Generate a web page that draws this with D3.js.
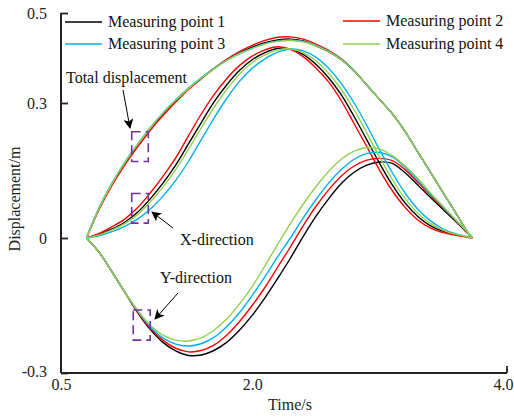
<!DOCTYPE html>
<html><head><meta charset="utf-8">
<script src="https://cdn.jsdelivr.net/npm/d3@7"></script>
<style>
html,body{margin:0;padding:0;background:#fff;}
svg text{font-family:"Liberation Serif","Times New Roman","DejaVu Serif",serif !important;}
</style></head>
<body><svg id="c" width="514" height="417" font-family="Liberation Serif, Times New Roman, serif"></svg>
<script>
// ---------- data ----------
const time = [0.70,0.80,0.90,1.00,1.10,1.20,1.30,1.40,1.50,1.60,1.70,1.80,1.90,2.00,2.10,2.20,2.30,2.40,2.50,2.60,2.70,2.80,2.90,3.00,3.10,3.20,3.30,3.40,3.50,3.60,3.70,3.73];
const seriesNames = ["Measuring point 1","Measuring point 2","Measuring point 3","Measuring point 4"];
const seriesColors = ["#000000","#ff0000","#00b0f0","#92d050"];

// Total displacement
const total1 = [0,0.066,0.120,0.165,0.205,0.242,0.275,0.304,0.331,0.354,0.376,0.395,0.411,0.424,0.434,0.440,0.442,0.438,0.427,0.414,0.396,0.371,0.340,0.308,0.276,0.237,0.191,0.146,0.100,0.055,0.009,0];
const total2 = [0,0.064,0.117,0.162,0.202,0.239,0.272,0.302,0.330,0.354,0.377,0.397,0.414,0.428,0.439,0.446,0.447,0.442,0.431,0.417,0.398,0.372,0.340,0.308,0.276,0.237,0.191,0.146,0.100,0.055,0.009,0];
const total3 = [0,0.068,0.122,0.168,0.208,0.245,0.278,0.307,0.333,0.356,0.377,0.395,0.410,0.422,0.432,0.438,0.440,0.437,0.428,0.415,0.397,0.372,0.340,0.308,0.276,0.237,0.191,0.146,0.100,0.055,0.009,0];
const total4 = [0,0.067,0.121,0.167,0.207,0.244,0.277,0.306,0.332,0.355,0.376,0.394,0.409,0.421,0.431,0.437,0.439,0.436,0.427,0.414,0.396,0.371,0.340,0.308,0.276,0.237,0.191,0.146,0.100,0.055,0.009,0];

// X-direction
const xdir1 = [0,0.008,0.020,0.035,0.057,0.087,0.122,0.162,0.209,0.256,0.302,0.340,0.372,0.396,0.412,0.421,0.420,0.408,0.386,0.356,0.318,0.270,0.218,0.166,0.118,0.078,0.048,0.027,0.015,0.008,0.002,0];
const xdir2 = [0,0.010,0.025,0.042,0.067,0.100,0.137,0.178,0.227,0.275,0.318,0.354,0.383,0.404,0.418,0.425,0.419,0.403,0.378,0.347,0.305,0.254,0.203,0.151,0.105,0.068,0.040,0.022,0.012,0.006,0.001,0];
const xdir3 = [0,0.005,0.014,0.026,0.042,0.064,0.093,0.128,0.170,0.218,0.266,0.310,0.348,0.377,0.398,0.413,0.420,0.416,0.402,0.377,0.343,0.300,0.250,0.196,0.145,0.100,0.064,0.038,0.020,0.009,0.002,0];
const xdir4 = [0,0.007,0.018,0.032,0.052,0.080,0.113,0.152,0.197,0.244,0.290,0.330,0.364,0.390,0.407,0.418,0.420,0.412,0.394,0.366,0.330,0.285,0.233,0.180,0.130,0.088,0.055,0.032,0.017,0.008,0.002,0];

// Y-direction
const ydir1 = [0,-0.032,-0.075,-0.120,-0.165,-0.203,-0.232,-0.251,-0.261,-0.260,-0.250,-0.232,-0.205,-0.172,-0.133,-0.090,-0.045,0.003,0.048,0.087,0.121,0.146,0.162,0.169,0.166,0.145,0.118,0.090,0.063,0.036,0.008,0];
const ydir2 = [0,-0.032,-0.075,-0.120,-0.164,-0.200,-0.227,-0.245,-0.253,-0.250,-0.238,-0.216,-0.186,-0.150,-0.110,-0.065,-0.020,0.027,0.070,0.107,0.138,0.160,0.173,0.177,0.172,0.152,0.124,0.095,0.066,0.038,0.009,0];
const ydir3 = [0,-0.032,-0.075,-0.120,-0.162,-0.197,-0.222,-0.236,-0.240,-0.235,-0.221,-0.197,-0.166,-0.128,-0.086,-0.042,0.000,0.044,0.085,0.122,0.152,0.175,0.188,0.190,0.180,0.157,0.128,0.098,0.068,0.039,0.010,0];
const ydir4 = [0,-0.032,-0.075,-0.120,-0.160,-0.194,-0.216,-0.227,-0.229,-0.222,-0.205,-0.180,-0.147,-0.108,-0.062,-0.014,0.032,0.075,0.114,0.148,0.175,0.193,0.201,0.198,0.183,0.160,0.132,0.100,0.070,0.040,0.010,0];

const xTickValues = [0.5, 2.0, 4.0];
const xTickLabels = ["0.5","2.0","4.0"];
const yTickValues = [0.5, 0.3, 0, -0.3];
const yTickLabels = ["0.5","0.3","0","-0.3"];

// ---------- chart ----------
const FONT = "Liberation Serif, Times New Roman, serif";
const svg = d3.select("#c");
const x = d3.scaleLinear().domain([0.5, 4.0]).range([61, 507]);
const y = d3.scaleLinear().domain([-0.3, 0.5]).range([373, 13]);

const groups = [
  [total1,total2,total3,total4],
  [xdir1,xdir2,xdir3,xdir4],
  [ydir1,ydir2,ydir3,ydir4]
];

const line = d3.line().x(d=>x(d[0])).y(d=>y(d[1])).curve(d3.curveCatmullRom.alpha(0.5));

for (let s = 0; s < 4; s++) {
  groups.forEach(g => {
    const pts = time.map((t,i)=>[t, g[s][i]]);
    svg.append("path").attr("d", line(pts)).attr("fill","none")
      .attr("stroke", seriesColors[s]).attr("stroke-width",1.4);
  });
}

// axes
const axisColor = "#222";
const gx = svg.append("g").attr("transform",`translate(0,${y(-0.3)})`)
  .call(d3.axisBottom(x).tickValues(xTickValues).tickFormat((d,i)=>xTickLabels[i]).tickSize(0).tickPadding(6));
gx.attr("font-family",FONT).attr("font-size",16);
gx.select(".domain").remove();
gx.selectAll("text").attr("fill","#222");
gx.selectAll(".tick").filter(d=>d===4.0).select("text").attr("text-anchor","end").attr("x",x(4.0)>0?6:0);
// x ticks at ends (inward)
svg.append("g").selectAll("line").data([0.5, 4.0]).join("line")
  .attr("x1",d=>x(d)).attr("x2",d=>x(d)).attr("y1",y(-0.3)).attr("y2",y(-0.3)-7)
  .attr("stroke",axisColor).attr("stroke-width",1.8);

const gy = svg.append("g").attr("transform",`translate(${x(0.5)},0)`)
  .call(d3.axisLeft(y).tickValues(yTickValues).tickFormat((d,i)=>yTickLabels[i]).tickSizeInner(-7).tickSizeOuter(0).tickPadding(14));
gy.attr("font-family",FONT).attr("font-size",16);
gy.select(".domain").remove();
gy.selectAll(".tick line").attr("stroke",axisColor).attr("stroke-width",1.8);
gy.selectAll("text").attr("fill","#222");
gy.selectAll(".tick").filter(d=>d===-0.3).select("text").attr("dy","0.2em");

// axis lines
svg.append("line").attr("x1",x(0.5)).attr("x2",x(0.5)).attr("y1",y(0.5)).attr("y2",y(-0.3))
  .attr("stroke",axisColor).attr("stroke-width",2);
svg.append("line").attr("x1",x(0.5)).attr("x2",x(4.0)).attr("y1",y(-0.3)).attr("y2",y(-0.3))
  .attr("stroke",axisColor).attr("stroke-width",2);

// axis titles
svg.append("text").attr("x",290).attr("y",410).attr("text-anchor","middle")
  .attr("font-family",FONT).attr("font-size",16).attr("fill","#222").text("Time/s");
svg.append("text").attr("transform","translate(20,199) rotate(-90)").attr("text-anchor","middle")
  .attr("font-family",FONT).attr("font-size",16).attr("fill","#222").text("Displacement/m");

// legend
const legend = [
  {i:0, lx:65, ly:22},
  {i:1, lx:343, ly:21},
  {i:2, lx:65, ly:44},
  {i:3, lx:343, ly:44}
];
legend.forEach(l=>{
  svg.append("line").attr("x1",l.lx).attr("x2",l.lx+37).attr("y1",l.ly).attr("y2",l.ly)
    .attr("stroke",seriesColors[l.i]).attr("stroke-width",1.6);
  svg.append("text").attr("x",l.lx+43).attr("y",l.ly+5).attr("font-family",FONT).attr("font-size",16).attr("fill","#111")
    .text(seriesNames[l.i]);
});

// annotations
const defs = svg.append("defs");
defs.append("marker").attr("id","ah").attr("viewBox","0 0 10 10").attr("refX",9).attr("refY",5)
  .attr("markerWidth",10).attr("markerHeight",10).attr("markerUnits","userSpaceOnUse").attr("orient","auto")
  .append("path").attr("d","M0,0 L10,5 L0,10 L2.5,5 Z").attr("fill","#000");

const ann = [
  {text:"Total displacement", tx:66, ty:83, anchor:"start", a:[123,90,130,128]},
  {text:"X-direction", tx:180, ty:245, anchor:"start", a:[173,228,152,212]},
  {text:"Y-direction", tx:160, ty:283, anchor:"start", a:[178,293,155,319]}
];
ann.forEach(a=>{
  svg.append("text").attr("x",a.tx).attr("y",a.ty).attr("text-anchor",a.anchor)
    .attr("font-family",FONT).attr("font-size",16).attr("fill","#111").text(a.text);
  svg.append("line").attr("x1",a.a[0]).attr("y1",a.a[1]).attr("x2",a.a[2]).attr("y2",a.a[3])
    .attr("stroke","#000").attr("stroke-width",1).attr("marker-end","url(#ah)");
});

const boxes = [
  [1.055, 1.185, 0.236, 0.170],
  [1.055, 1.185, 0.099, 0.033],
  [1.067, 1.200, -0.160, -0.227]
];
boxes.forEach(b=>{
  svg.append("rect").attr("x",x(b[0])).attr("y",y(b[2]))
    .attr("width",x(b[1])-x(b[0])).attr("height",y(b[3])-y(b[2]))
    .attr("fill","none").attr("stroke","#7030a0").attr("stroke-width",1.6)
    .attr("stroke-dasharray","9,5");
});
</script></body></html>
